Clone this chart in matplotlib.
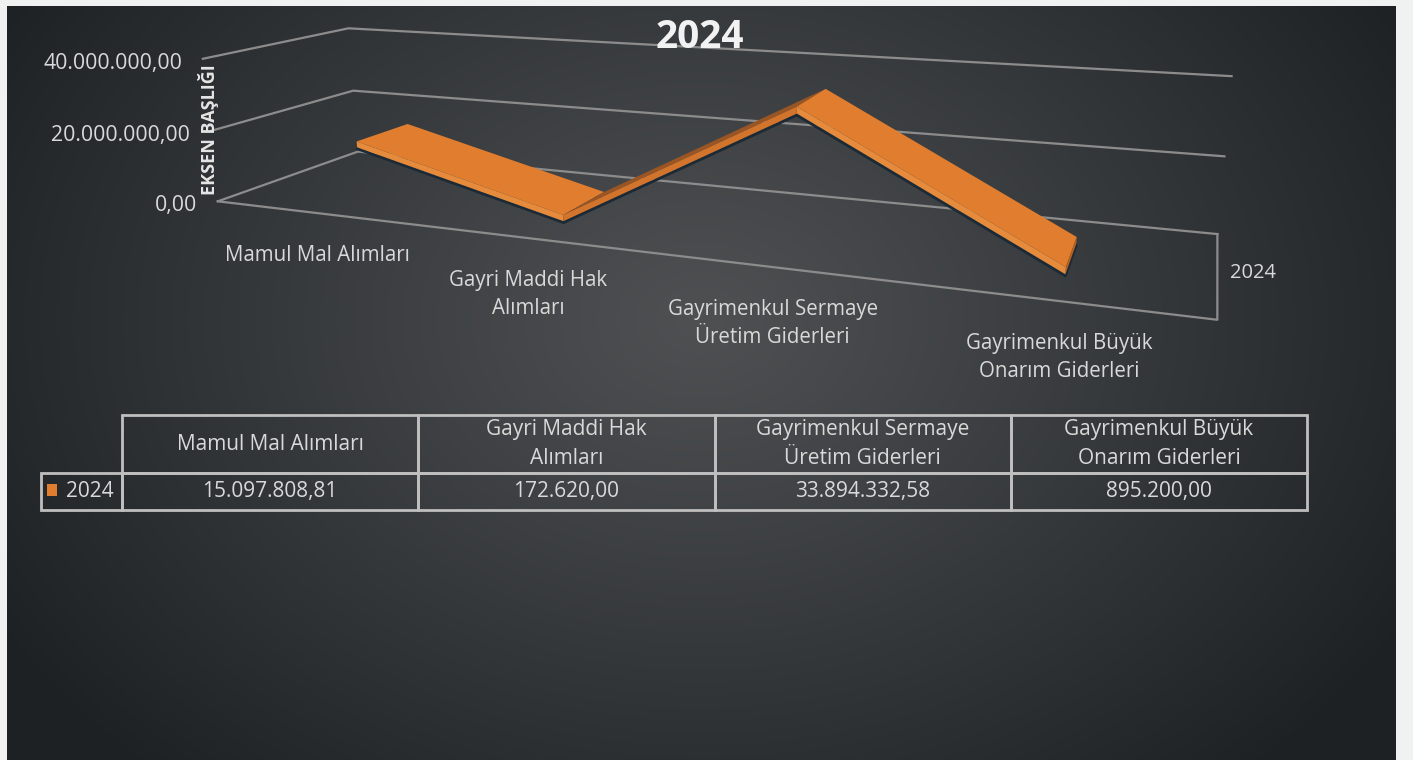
import numpy as np
import matplotlib.pyplot as plt
from matplotlib.patches import Rectangle
from mpl_toolkits.mplot3d import proj3d
from mpl_toolkits.mplot3d.art3d import Poly3DCollection

plt.rcParams['font.family'] = ['Open Sans', 'DejaVu Sans']

# data
categories = ["Mamul Mal Alımları", "Gayri Maddi Hak\nAlımları",
              "Gayrimenkul Sermaye\nÜretim Giderleri", "Gayrimenkul Büyük\nOnarım Giderleri"]
values_2024 = [15097808.81, 172620.00, 33894332.58, 895200.00]
series_name = "2024"
y_ticks = [0, 20000000, 40000000]


def tr(v):
    # turkish number format 1.234.567,89
    s = f"{v:,.2f}"
    return s.replace(",", "X").replace(".", ",").replace("X", ".")


txt = '#d9d9d9'
grid = '#8c8c8c'
orange = '#e07d2e'

fig = plt.figure(figsize=(14.13, 7.6), dpi=100)
fig.patch.set_facecolor('#f0f2f1')

# background panel with radial gradient
bg = fig.add_axes([0, 0, 1, 1])
bg.set_xlim(0, 1413)
bg.set_ylim(760, 0)
bg.axis('off')
xx, yy = np.meshgrid(np.arange(7, 1396), np.arange(6, 760))
r = np.clip(np.hypot((xx - 700) / 820, (yy - 320) / 620), 0, 1)
c0 = np.array([78, 80, 82]) / 255
c1 = np.array([29, 33, 36]) / 255
t = r[..., None] ** 1.1
img = c0 * (1 - t) + c1 * t
bg.imshow(img, extent=(7, 1396, 760, 6), aspect='auto', interpolation='bilinear')

# data table under the chart, first column holds the series key
rows = [[series_name] + [tr(v) for v in values_2024]]
tbl = bg.table(cellText=rows, colLabels=[''] + categories, cellLoc='center',
               colWidths=[81, 296, 296, 296, 296],
               bbox=[41 / 1413, 1 - 510 / 760, (1307 - 41) / 1413, (510 - 415) / 760])
tbl.auto_set_font_size(False)
tbl.set_fontsize(15)
for (row, col), cell in tbl.get_celld().items():
    cell.set_edgecolor('#bfbfbf')
    cell.set_linewidth(2)
    cell.set_facecolor('none')
    cell.get_text().set_color(txt)
    cell.get_text().set_linespacing(1.5)
    cell.set_height(58 if row == 0 else 37)
tbl[0, 0].visible_edges = ''
tbl[1, 0].get_text().set_horizontalalignment('right')
bg.add_patch(Rectangle((47, 484), 10, 12, facecolor=orange, edgecolor='none'))

# 3d chart (camera aims a bit right of the box centre, hence xlim to 4.3)
ax = fig.add_axes([-20 / 1413, -131 / 760, 1451 / 1413, 1451 / 760], projection='3d')
ax.set_facecolor((0, 0, 0, 0))
ax.set_axis_off()
ax.set_xlim(0, 4.3)
ax.set_ylim(0, 1)
ax.set_zlim(0, 40e6)
ax.set_box_aspect((1.075, 0.2395, 0.1546), zoom=0.7487)
ax.view_init(elev=13.41, azim=-68.85, roll=0.35)
ax.set_proj_type('persp', focal_length=0.1585)
ax.computed_zorder = False

for z in y_ticks:
    ax.plot([0, 0, 4], [0, 1, 1], [z, z, z], color=grid, lw=1.6, zorder=1)
ax.plot([0, 4, 4], [0, 0, 1], [0, 0, 0], color=grid, lw=1.6, zorder=1)

xs = np.arange(len(values_2024)) + 0.5
zs = np.array(values_2024)
y0, y1 = 0.33, 0.72
th = 1.7e6

# soft shadow under the ribbon
dz = 2.1e6
shadow = [[(xs[i], y0, zs[i] - dz), (xs[i + 1], y0, zs[i + 1] - dz),
           (xs[i + 1], y1, zs[i + 1] - dz), (xs[i], y1, zs[i] - dz)]
          for i in range(len(xs) - 1)]
ax.add_collection3d(Poly3DCollection(shadow, facecolors='#1c2a36', edgecolors='#1c2a36',
                                     linewidths=2, alpha=0.25, zorder=1.5))

faces, colors = [], []
for i in range(len(xs) - 1):
    xa, xb, za, zb = xs[i], xs[i + 1], zs[i], zs[i + 1]
    faces.append([(xa, y0, za), (xb, y0, zb), (xb, y1, zb), (xa, y1, za)])
    colors.append(orange if zb < za else '#9a5524')
    faces.append([(xa, y0, za), (xb, y0, zb), (xb, y0, zb - th), (xa, y0, za - th)])
    colors.append('#e68b3c' if zb < za else '#d2742c')
xl, zl = xs[-1], zs[-1]
faces.append([(xl, y0, zl), (xl, y1, zl), (xl, y1, zl - th), (xl, y0, zl - th)])
colors.append('#b8621f')
ribbon = Poly3DCollection(faces, facecolors=colors, edgecolors='none', zorder=2)
ax.add_collection3d(ribbon)

# axis labels: project the 3d anchor points to figure pixels, then offset in pixels
M = ax.get_proj()


def to_px(x, y, z):
    px, py, _ = proj3d.proj_transform(x, y, z, M)
    return bg.transData.inverted().transform(ax.transData.transform((px, py)))


for z in y_ticks:
    px, py = to_px(0, 0, z)
    bg.text(px - 21, py + 2, tr(z), ha='right', va='center_baseline', color=txt,
            fontsize=15.3)

for x, lab in zip(xs, categories):
    px, py = to_px(x, 0, 0)
    bg.text(px + 4, py + 32, lab, ha='center', va='top', color=txt, fontsize=14.8,
            linespacing=1.45)

px, py = to_px(4, 0.5, 0)
bg.text(px + 13, py, series_name, ha='left', va='center', color=txt, fontsize=14.5)

fig.text(700 / 1413, 1 - 37 / 760, '2024', ha='center', va='center', fontsize=28,
         fontweight='bold', color='#f2f2f2')
fig.text(208 / 1413, 1 - 130 / 760, 'EKSEN BAŞLIĞI', rotation=90, ha='center', va='center',
         fontsize=13, fontweight='bold', color='#e6e6e6')

fig.savefig('out.png', dpi=100, facecolor=fig.get_facecolor())
